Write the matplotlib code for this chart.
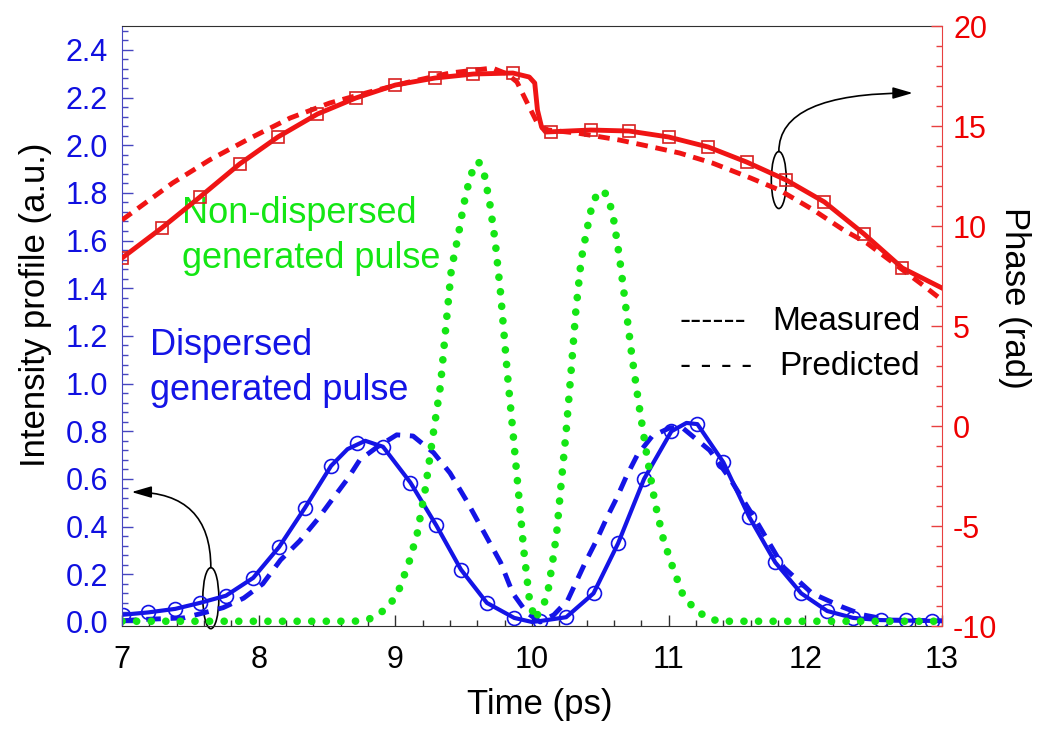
import matplotlib
matplotlib.use("Agg")
import matplotlib.pyplot as plt
from matplotlib.ticker import MultipleLocator
from matplotlib.patches import Ellipse, FancyArrowPatch

plt.rcParams["font.family"] = ["Liberation Sans", "DejaVu Sans"]
plt.rcParams["axes.unicode_minus"] = False

# --------------------------
# Data
# --------------------------

# phase (rad), measured: square markers
phase_mk_t = [7.00, 7.29, 7.57, 7.86, 8.14, 8.43, 8.71, 9.00, 9.29, 9.57, 9.86,
              10.14, 10.43, 10.71, 11.00, 11.29, 11.57, 11.86, 12.14, 12.43, 12.71]
phase_mk = [8.4, 9.9, 11.45, 13.1, 14.45, 15.6, 16.4, 17.05, 17.4, 17.6, 17.65,
            14.7, 14.8, 14.75, 14.45, 13.95, 13.2, 12.3, 11.2, 9.6, 7.9]

# phase, measured: solid line
phase_meas_t = [7.00, 7.29, 7.57, 7.86, 8.14, 8.43, 8.71, 9.00, 9.29, 9.57, 9.86,
                9.98, 10.02, 10.04, 10.07, 10.10, 10.43, 10.71, 11.00, 11.29,
                11.57, 11.86, 12.14, 12.43, 12.71, 13.00]
phase_meas = [8.4, 9.9, 11.45, 13.1, 14.45, 15.6, 16.4, 17.05, 17.4, 17.6, 17.65,
              17.45, 17.15, 15.8, 14.95, 14.7, 14.8, 14.75, 14.45, 13.95,
              13.2, 12.3, 11.2, 9.6, 7.9, 6.9]

# phase, predicted: dashed line
phase_pred_t = [7.00, 7.10, 7.37, 7.64, 7.94, 8.23, 8.52, 8.81, 9.10, 9.40, 9.71,
                9.82, 9.89, 9.98, 10.05, 10.12, 10.33, 10.64, 10.88, 11.08, 11.32,
                11.60, 11.81, 12.06, 12.28, 12.45, 12.84, 13.00]
phase_pred = [10.3, 10.8, 12.15, 13.3, 14.4, 15.4, 16.15, 16.7, 17.2, 17.65, 17.9,
              17.6, 17.2, 15.95, 15.0, 14.8, 14.65, 14.3, 13.95, 13.65, 13.15,
              12.4, 11.8, 10.8, 9.8, 9.15, 7.15, 6.3]

# intensity, measured: circle markers
int_mk_t = [7.01, 7.19, 7.39, 7.57, 7.76, 7.96, 8.15, 8.34, 8.53, 8.72, 8.91, 9.11,
            9.30, 9.48, 9.67, 9.87, 10.06, 10.25, 10.45, 10.63, 10.82, 11.02, 11.21,
            11.40, 11.59, 11.78, 11.97, 12.16, 12.35, 12.55, 12.74, 12.93]
int_mk = [0.03, 0.04, 0.055, 0.08, 0.11, 0.185, 0.315, 0.48, 0.655, 0.75, 0.735, 0.585,
          0.405, 0.22, 0.08, 0.017, 0.004, 0.02, 0.12, 0.33, 0.6, 0.8, 0.83,
          0.67, 0.44, 0.25, 0.12, 0.046, 0.017, 0.008, 0.008, 0.004]

# intensity, measured: solid line
int_meas_t = [7.00, 7.19, 7.39, 7.57, 7.76, 7.96, 8.15, 8.34, 8.53, 8.65, 8.78, 8.91,
              9.11, 9.30, 9.48, 9.67, 9.87, 10.00, 10.06, 10.25, 10.45, 10.63, 10.82,
              11.02, 11.13, 11.21, 11.40, 11.59, 11.78, 11.97, 12.16, 12.35, 12.55,
              12.74, 13.00]
int_meas = [0.03, 0.04, 0.055, 0.08, 0.11, 0.185, 0.315, 0.48, 0.655, 0.725, 0.76, 0.735,
            0.585, 0.405, 0.22, 0.08, 0.017, 0.0, 0.004, 0.02, 0.12, 0.33, 0.6,
            0.8, 0.835, 0.83, 0.67, 0.44, 0.25, 0.12, 0.046, 0.017, 0.008,
            0.006, 0.004]

# intensity, predicted: dashed line
int_pred_t = [7.00, 7.13, 7.45, 7.61, 7.74, 7.89, 8.03, 8.16, 8.30, 8.43, 8.52, 8.65,
              8.74, 8.87, 9.01, 9.13, 9.28, 9.40, 9.52, 9.64, 9.77, 9.86, 9.96, 10.06,
              10.16, 10.26, 10.39, 10.47, 10.55, 10.62, 10.69, 10.77, 10.88, 11.01,
              11.10, 11.30, 11.45, 11.65, 11.84, 12.05, 12.27, 12.42, 12.62, 13.00]
int_pred = [0.005, 0.01, 0.017, 0.04, 0.06, 0.1, 0.16, 0.26, 0.34, 0.43, 0.5, 0.6,
            0.68, 0.735, 0.785, 0.78, 0.71, 0.625, 0.51, 0.385, 0.25, 0.12, 0.04, 0.0,
            0.03, 0.09, 0.25, 0.34, 0.44, 0.52, 0.61, 0.70, 0.78, 0.815,
            0.815, 0.72, 0.6, 0.415, 0.23, 0.12, 0.063, 0.03, 0.008, 0.005]

# non-dispersed pulse: dotted line
nd_t = [7.00, 8.00, 8.70, 8.78, 8.85, 8.95, 9.02, 9.10, 9.16, 9.22, 9.28, 9.33,
        9.37, 9.41, 9.46, 9.50, 9.54, 9.58, 9.61, 9.65, 9.69, 9.73, 9.77, 9.82,
        9.86, 9.90, 9.94, 9.98, 10.02, 10.05, 10.09, 10.12, 10.15, 10.18, 10.21,
        10.25, 10.29, 10.32, 10.36, 10.40, 10.44, 10.48, 10.52, 10.56, 10.60,
        10.64, 10.68, 10.73, 10.78, 10.84, 10.90, 10.96, 11.02, 11.10, 11.18,
        11.28, 11.37, 12.00, 13.00]
nd = [0.003, 0.003, 0.003, 0.008, 0.02, 0.065, 0.125, 0.25, 0.37, 0.56, 0.8, 0.99,
      1.24, 1.48, 1.62, 1.75, 1.85, 1.92, 1.93, 1.88, 1.76, 1.6, 1.38, 1.04,
      0.8, 0.55, 0.3, 0.1, 0.01, 0.04, 0.08, 0.14, 0.25, 0.37, 0.56,
      0.8, 1.08, 1.3, 1.52, 1.64, 1.75, 1.8, 1.81, 1.78, 1.68,
      1.53, 1.35, 1.12, 0.92, 0.7, 0.5, 0.35, 0.245, 0.12, 0.06,
      0.017, 0.003, 0.003, 0.003]

RED = "#f01414"
BLUE = "#1414e6"
GREEN = "#14e614"

fig = plt.figure(figsize=(10.41, 7.31), dpi=100)
ax = fig.add_axes([0.1172, 0.1436, 0.7877, 0.8208])
ax2 = ax.twinx()

# --------------------------
# Intensity (left axis)
# --------------------------
ax.plot(int_pred_t, int_pred, color=BLUE, lw=3.5, linestyle=(0, (3.0, 2.0)))
ax.plot(int_meas_t, int_meas, color=BLUE, lw=3.0)
ax.plot(int_mk_t, int_mk, "o", ms=10, mfc="none", mec=BLUE, mew=1.2)
ax.plot(nd_t, nd, color=GREEN, lw=5.5, linestyle=(0, (0.01, 1.9)),
        dash_capstyle="round")

ax.set_xlim(7, 13)
ax.set_ylim(-0.017, 2.5)
ax.xaxis.set_major_locator(MultipleLocator(1))
ax.xaxis.set_minor_locator(MultipleLocator(0.2))
ax.yaxis.set_major_locator(MultipleLocator(0.2))
ax.yaxis.set_minor_locator(MultipleLocator(0.04))
ax.yaxis.set_major_formatter(plt.FormatStrFormatter("%.1f"))

ax.tick_params(axis="y", which="both", direction="in", colors="#4646c0",
               labelcolor="#1010e0", labelsize=22, pad=10)
ax.tick_params(axis="y", which="major", length=8, width=1)
ax.tick_params(axis="y", which="minor", length=4.5, width=1)
ax.tick_params(axis="x", which="both", direction="in", colors="#303030",
               labelcolor="black", labelsize=22, pad=14, top=False)
ax.tick_params(axis="x", which="major", length=8, width=1)
ax.tick_params(axis="x", which="minor", length=4.5, width=1)

ax.spines["left"].set_color("#4646c0")
ax.spines["right"].set_visible(False)
ax.spines["top"].set_color("#303030")
ax.spines["bottom"].set_color("#303030")

ax.set_xlabel("Time (ps)", fontsize=25)
ax.xaxis.set_label_coords(0.51, -0.103)
ax.set_ylabel("Intensity profile (a.u.)", fontsize=25)
ax.yaxis.set_label_coords(-0.085, 0.535)

# --------------------------
# Phase (right axis)
# --------------------------
ax2.plot(phase_pred_t, phase_pred, color=RED, lw=3.5, linestyle=(0, (2.4, 1.6)))
ax2.plot(phase_meas_t, phase_meas, color=RED, lw=3.5)
ax2.plot(phase_mk_t, phase_mk, "s", ms=9, mfc="none", mec="#d82020", mew=1.2)

ax2.set_ylim(-10, 20)
ax2.yaxis.set_major_locator(MultipleLocator(5))
ax2.yaxis.set_minor_locator(MultipleLocator(1))
ax2.tick_params(axis="y", which="both", direction="in", colors="#e84040",
                labelcolor="#ee0000", labelsize=22, pad=8)
ax2.tick_params(axis="y", which="major", length=8, width=1)
ax2.tick_params(axis="y", which="minor", length=4.5, width=1)
ax2.spines["right"].set_color("#e84040")
for s in ["left", "top", "bottom"]:
    ax2.spines[s].set_visible(False)
ax2.set_ylabel("Phase (rad)", fontsize=25, rotation=270, va="bottom")
ax2.yaxis.set_label_coords(1.068, 0.547)

# --------------------------
# Annotations
# --------------------------
ax.text(7.44, 1.673, "Non-dispersed", color=GREEN, fontsize=26, va="baseline")
ax.text(7.44, 1.484, "generated pulse", color=GREEN, fontsize=26, va="baseline")
ax.text(7.205, 1.12, "Dispersed", color=BLUE, fontsize=26, va="baseline")
ax.text(7.205, 0.93, "generated pulse", color=BLUE, fontsize=26, va="baseline")

ax.text(11.08, 1.224, "------", fontsize=24, va="baseline")
ax.text(12.84, 1.224, "Measured", fontsize=24, va="baseline", ha="right")
ax.text(11.08, 1.036, "- - - -", fontsize=24, va="baseline")
ax.text(12.84, 1.036, "Predicted", fontsize=24, va="baseline", ha="right")

ax.add_patch(Ellipse((7.65, 0.10), 0.117, 0.256, fill=False, lw=1.2, ec="black",
                     clip_on=False))
ax.add_patch(FancyArrowPatch((7.65, 0.228), (7.07, 0.545),
                             connectionstyle="angle3,angleA=90,angleB=0",
                             arrowstyle="-|>,head_length=1.2,head_width=0.35",
                             mutation_scale=10, lw=1.2, color="black",
                             shrinkA=0, shrinkB=0))

ax2.add_patch(Ellipse((11.806, 12.3), 0.11, 2.85, fill=False, lw=1.2, ec="black"))
ax2.add_patch(FancyArrowPatch((11.806, 13.72), (12.786, 16.65),
                              connectionstyle="angle3,angleA=90,angleB=0",
                              arrowstyle="-|>,head_length=1.2,head_width=0.35",
                              mutation_scale=10, lw=1.2, color="black",
                              shrinkA=0, shrinkB=0))

fig.savefig("out.png", dpi=100)
